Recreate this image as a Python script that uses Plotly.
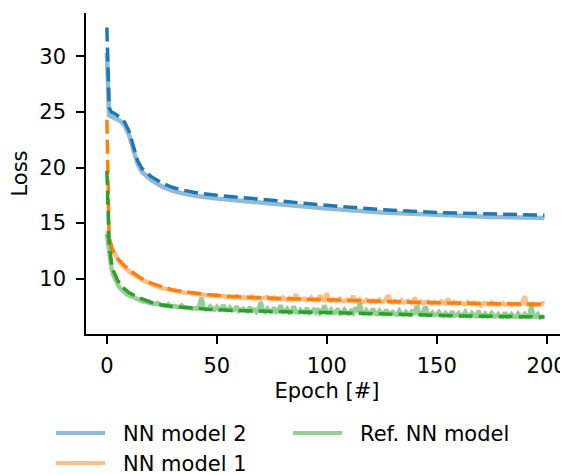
import plotly.graph_objects as go

# ---------------- data ----------------
epochs = list(range(200))

# NN model 2 - smooth curves, key points
nn2_x = [0, 1, 2, 4, 6, 8, 10, 12, 14, 16, 18, 20, 25, 30, 35, 40, 50, 60, 75, 100, 125, 150, 175, 199]
nn2_solid = [30.3, 24.7, 24.6, 24.4, 24.2, 23.8, 23.0, 21.6, 20.3, 19.6, 19.2, 18.9, 18.3, 17.9, 17.65, 17.45,
             17.2, 17.0, 16.75, 16.3, 15.95, 15.7, 15.55, 15.45]
nn2_dashed = [32.6, 25.4, 25.0, 24.8, 24.5, 24.1, 23.3, 21.9, 20.6, 19.9, 19.5, 19.2, 18.6, 18.2, 17.95, 17.75,
              17.5, 17.3, 17.05, 16.6, 16.2, 15.95, 15.8, 15.7]

# NN model 1 (per epoch)
nn1_solid = [
    14.3, 13.4, 12.8, 12.4, 12.0, 11.7, 11.4, 11.2, 11.0, 10.8,
    10.65, 10.5, 10.4, 10.25, 10.1, 10.0, 9.9, 9.8, 9.7, 9.6,
    9.5, 9.45, 9.35, 9.3, 9.2, 9.15, 9.1, 9.05, 9.0, 8.95,
    8.9, 8.88, 8.85, 8.8, 8.78, 8.75, 8.72, 8.7, 8.7, 8.65,
    8.62, 8.58, 8.6, 8.55, 8.58, 8.52, 8.5, 8.52, 8.48, 8.45,
    8.5, 8.4, 8.38, 8.45, 8.35, 8.32, 8.4, 8.3, 8.3, 8.45,
    8.3, 8.25, 8.35, 8.25, 8.3, 8.25, 8.4, 8.2, 8.25, 8.3,
    8.2, 8.25, 8.2, 8.35, 8.2, 8.15, 8.3, 8.15, 8.2, 8.15,
    8.3, 8.15, 8.1, 8.25, 8.1, 8.15, 8.6, 8.1, 8.15, 8.1,
    8.2, 8.05, 8.1, 8.3, 8.05, 8.1, 8.05, 8.5, 8.1, 8.05,
    8.7, 8.05, 8.0, 8.15, 8.0, 8.05, 8.2, 8.0, 7.95, 8.1,
    8.0, 8.05, 8.45, 7.95, 8.0, 8.15, 7.95, 7.9, 8.1, 7.95,
    7.9, 8.05, 7.9, 7.95, 8.1, 7.9, 7.95, 8.2, 8.5, 7.9,
    7.85, 8.0, 7.9, 7.85, 8.05, 7.85, 7.9, 8.0, 7.85, 7.8,
    8.3, 7.85, 7.8, 7.95, 7.8, 7.85, 7.95, 7.8, 7.75, 7.9,
    7.8, 7.75, 7.95, 7.8, 7.75, 8.2, 7.8, 7.75, 7.9, 7.75,
    7.8, 7.85, 7.75, 7.7, 7.9, 7.75, 7.7, 7.85, 7.7, 7.75,
    7.6, 7.75, 7.8, 7.7, 7.65, 7.85, 7.7, 7.75, 7.65, 7.7,
    7.8, 7.65, 7.7, 7.75, 7.6, 7.7, 7.75, 7.65, 7.7, 7.9,
    8.4, 7.7, 7.65, 7.7, 7.75, 7.6, 7.7, 7.65, 7.8, 7.75,
]
nn1_x = [0, 1, 2, 3, 5, 7, 10, 15, 20, 25, 30, 38, 45, 56, 70, 80, 100, 120, 141, 160, 180, 199]
nn1_dashed = [24.3, 13.9, 12.9, 12.4, 11.8, 11.35, 10.8, 10.1, 9.6, 9.25, 8.98, 8.75, 8.58, 8.4, 8.27, 8.2,
              8.1, 7.97, 7.87, 7.8, 7.75, 7.7]

# Ref. NN model (per epoch)
ref_solid = [
    14.0, 12.2, 11.0, 10.3, 9.8, 9.45, 9.15, 8.95, 8.75, 8.6,
    8.5, 8.4, 8.3, 8.2, 8.15, 8.05, 7.98, 7.92, 7.95, 7.82,
    7.8, 7.75, 7.7, 7.8, 7.65, 7.6, 7.6, 7.55, 7.7, 7.5,
    7.5, 7.55, 7.45, 7.45, 7.6, 7.4, 7.4, 7.35, 7.4, 7.3,
    7.35, 7.3, 7.5, 8.3, 7.4, 7.25, 7.3, 7.5, 7.25, 7.2,
    7.45, 7.2, 7.3, 7.6, 7.2, 7.15, 7.4, 7.15, 7.2, 7.5,
    7.1, 7.15, 7.3, 7.1, 7.05, 7.45, 7.1, 7.2, 7.0, 7.3,
    7.9, 7.1, 7.0, 7.3, 7.05, 7.0, 7.4, 7.0, 7.1, 7.6,
    7.0, 7.05, 7.3, 6.95, 7.0, 7.5, 7.0, 6.95, 7.2, 7.0,
    6.95, 7.35, 6.9, 7.0, 7.2, 6.95, 7.3, 6.9, 7.1, 7.6,
    6.95, 6.9, 7.2, 6.9, 6.95, 7.3, 6.85, 6.9, 7.2, 6.9,
    6.85, 7.1, 6.9, 7.4, 7.0, 7.8, 6.9, 6.85, 7.15, 6.85,
    6.9, 7.3, 6.85, 6.8, 7.1, 6.85, 6.8, 7.2, 6.8, 6.85,
    7.0, 6.8, 6.75, 7.1, 6.8, 6.75, 7.0, 6.8, 6.75, 7.2,
    6.75, 7.6, 6.8, 6.75, 7.1, 7.5, 6.7, 6.75, 6.95, 6.7,
    6.75, 7.0, 6.7, 6.65, 6.9, 6.7, 6.7, 7.05, 6.65, 6.7,
    6.9, 6.65, 6.7, 7.0, 6.65, 6.6, 6.9, 6.65, 6.6, 7.1,
    6.65, 6.6, 6.85, 6.6, 6.65, 6.9, 6.6, 6.6, 6.8, 6.6,
    6.55, 6.95, 6.6, 6.55, 6.8, 6.6, 6.55, 6.85, 6.55, 6.6,
    6.8, 6.55, 6.6, 7.6, 6.6, 6.55, 6.8, 6.5, 6.55, 6.6,
]
ref_x = [0, 1, 2, 3, 5, 7, 10, 15, 20, 25, 30, 38, 45, 56, 70, 85, 100, 120, 141, 160, 180, 199]
ref_dashed = [19.7, 13.2, 11.5, 10.7, 9.8, 9.25, 8.75, 8.25, 7.88, 7.62, 7.5, 7.35, 7.25, 7.15, 7.05, 7.0,
              6.95, 6.85, 6.7, 6.65, 6.6, 6.55]

x_ticks = [0, 50, 100, 150, 200]
y_ticks = [10, 15, 20, 25, 30]

# ---------------- style ----------------
BLUE, ORANGE, GREEN = "#1f77b4", "#ff7f0e", "#2ca02c"
LIGHT = {BLUE: "rgba(31,119,180,0.5)", ORANGE: "rgba(255,127,14,0.5)", GREEN: "rgba(44,160,44,0.5)"}
FONT = "DejaVu Sans"
FS = 21
SOLID_W, DASH_W = 4.5, 3.5
DASH = "14px,6px"

W, H = 560, 467          # page body has an 8px margin: figure is drawn at (8, 8)
ML, MR, MT, MB = 78, 0, 5, 141
PW, PH = W - ML - MR, H - MT - MB

fig = go.Figure()
series = [
    ("NN model 2", BLUE, nn2_x, nn2_solid, nn2_x, nn2_dashed),
    ("NN model 1", ORANGE, epochs, nn1_solid, nn1_x, nn1_dashed),
    ("Ref. NN model", GREEN, epochs, ref_solid, ref_x, ref_dashed),
]
for name, col, xs, ys, xd, yd in series:
    fig.add_trace(go.Scatter(x=xs, y=ys, mode="lines", name=name, showlegend=False,
                             line=dict(color=LIGHT[col], width=SOLID_W)))
    fig.add_trace(go.Scatter(x=xd, y=yd, mode="lines", showlegend=False,
                             line=dict(color=col, width=DASH_W, dash=DASH)))

# legend (matplotlib style, 2 columns, column-major), positioned in figure pixels
def px_x(fx):
    return (fx - ML) / PW

def px_y(fy):
    return (H - MB - fy) / PH

legend_slots = [(48, 425), (48, 455), (285, 425)]   # (line start x, row centre y) in figure px
for (name, col, *_), (lx, ly) in zip(series, legend_slots):
    fig.add_shape(type="line", xref="paper", yref="paper",
                  x0=px_x(lx), x1=px_x(lx + 49), y0=px_y(ly), y1=px_y(ly),
                  line=dict(color=LIGHT[col], width=4))
    fig.add_annotation(xref="paper", yref="paper", x=px_x(lx + 66), y=px_y(ly + 1),
                       xanchor="left", yanchor="middle", showarrow=False, text=name,
                       borderpad=0, font=dict(family=FONT, size=FS, color="black"))

axis_common = dict(showline=True, linecolor="black", linewidth=1.6, ticks="outside",
                   ticklen=8, tickwidth=1.6, tickcolor="black", showgrid=False, zeroline=False,
                   tickfont=dict(family=FONT, size=FS, color="black"),
                   title_font=dict(family=FONT, size=FS, color="black"), mirror=False)

fig.update_layout(
    width=W, height=H,
    margin=dict(l=ML, r=MR, t=MT, b=MB, autoexpand=False),
    plot_bgcolor="white", paper_bgcolor="white",
    font=dict(family=FONT, size=FS, color="black"),
    showlegend=False,
    xaxis=dict(range=[-9.5, 209.7], tickvals=x_ticks, title=dict(text="Epoch [#]", standoff=6),
               ticklabelstandoff=4, **axis_common),
    yaxis=dict(range=[5.02, 33.9], tickvals=y_ticks, title=dict(text="Loss", standoff=12),
               ticklabelstandoff=6, **axis_common),
)

fig.write_html("out.html")
